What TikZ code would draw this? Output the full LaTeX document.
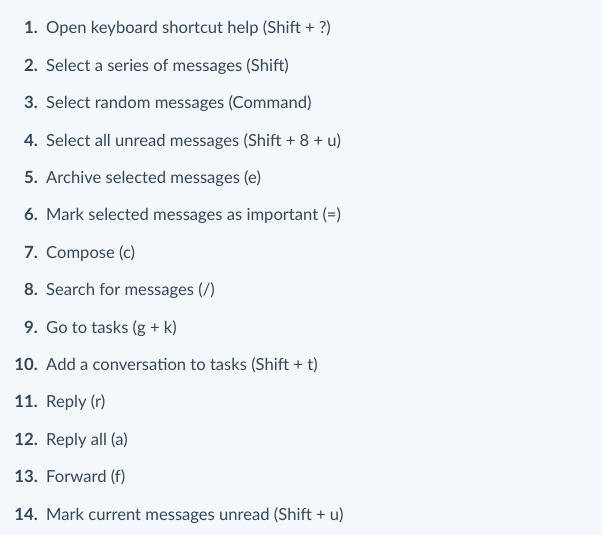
\documentclass[tikz,border=0pt]{standalone}
\usepackage{fontspec}
\setmainfont{Lato}
\definecolor{bg}{HTML}{F5F8FA}
\definecolor{ink}{HTML}{33475B}
\begin{document}
\begin{tikzpicture}[x=1pt,y=1pt,
  num/.style={anchor=base east,inner sep=0pt,font=\fontsize{16.8}{19}\selectfont\bfseries,text=ink},
  item/.style={anchor=base west,inner sep=0pt,font=\fontsize{16.6}{19}\selectfont,text=ink}]
\fill[bg] (0,0) rectangle (602,535);
\useasboundingbox (0,0) rectangle (602,535);
\foreach \i/\t in {1/{Open keyboard shortcut help (Shift + ?)},
  2/{Select a series of messages (Shift)},
  3/{Select random messages (Command)},
  4/{Select all unread messages (Shift + 8 + u)},
  5/{Archive selected messages (e)},
  6/{Mark selected messages as important (=)},
  7/{Compose (c)},
  8/{Search for messages (/)},
  9/{Go to tasks (g + k)},
  10/{Add a conversation to tasks (Shift + t)},
  11/{Reply (r)},
  12/{Reply all (a)},
  13/{Forward (f)},
  14/{Mark current messages unread (Shift + u)}}{
  \node[num] (n\i) at (38,{535-34-(\i-1)*37.4}) {\i.};
  \node[item] (t\i) at (46,{535-34-(\i-1)*37.4}) {\t};
}
\end{tikzpicture}
\end{document}
